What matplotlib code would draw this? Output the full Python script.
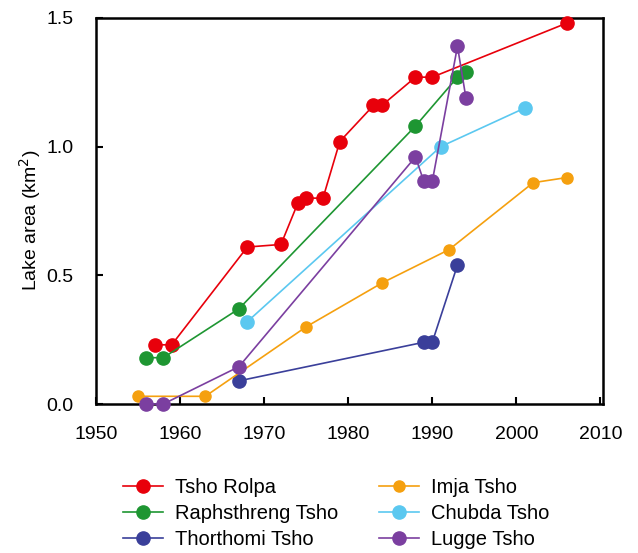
import matplotlib.pyplot as plt

plt.rcParams['font.family'] = ['Liberation Sans', 'DejaVu Sans']

# Lake areas (km2) by survey year
rolpa_years = [1957, 1959, 1968, 1972, 1974, 1975, 1977, 1979, 1983, 1984, 1988, 1990, 2006]
rolpa_area = [0.23, 0.23, 0.61, 0.62, 0.78, 0.80, 0.80, 1.02, 1.16, 1.16, 1.27, 1.27, 1.48]

raph_years = [1956, 1958, 1967, 1988, 1993, 1994]
raph_area = [0.18, 0.18, 0.37, 1.08, 1.27, 1.29]

thor_years = [1967, 1989, 1990, 1993]
thor_area = [0.09, 0.24, 0.24, 0.54]

imja_years = [1955, 1963, 1975, 1984, 1992, 2002, 2006]
imja_area = [0.03, 0.03, 0.30, 0.47, 0.60, 0.86, 0.88]

chubda_years = [1968, 1991, 2001]
chubda_area = [0.32, 1.00, 1.15]

lugge_years = [1956, 1958, 1967, 1988, 1989, 1990, 1993, 1994]
lugge_area = [0.0, 0.0, 0.145, 0.96, 0.865, 0.865, 1.39, 1.19]

series = [
    ("Tsho Rolpa", rolpa_years, rolpa_area, "#e8000b", 9.5),
    ("Raphsthreng Tsho", raph_years, raph_area, "#1e9632", 9.5),
    ("Thorthomi Tsho", thor_years, thor_area, "#3a3f9a", 9.5),
    ("Imja Tsho", imja_years, imja_area, "#f5a00f", 8),
    ("Chubda Tsho", chubda_years, chubda_area, "#5bc8f0", 9.5),
    ("Lugge Tsho", lugge_years, lugge_area, "#7b3fa0", 9.5),
]

fig = plt.figure(figsize=(6.38, 5.53), dpi=100)
ax = fig.add_axes([0.1505, 0.2694, 0.7945, 0.6981])

for name, yrs, area, col, ms in series:
    ax.plot(yrs, area, "-o", color=col, lw=1.2, ms=ms, mec=col, label=name,
            clip_on=False, zorder=3)

ax.set_xlim(1950, 2010.3)
ax.set_ylim(0, 1.5)
ax.set_xticks(range(1950, 2011, 10))
ax.set_yticks([0.0, 0.5, 1.0, 1.5])
ax.set_yticklabels(["0.0", "0.5", "1.0", "1.5"])
ax.tick_params(direction="in", length=5, width=1.5, labelsize=14, pad=16)
ax.tick_params(axis="x", pad=16)
for s in ax.spines.values():
    s.set_linewidth(1.8)
ax.set_ylabel("Lake area (km$^2$)", fontsize=14)
ax.yaxis.set_label_coords(-0.105, 0.477)

# legend in two columns under the plot, column-wise order
fig.legend(loc="center left", bbox_to_anchor=(0.193, 0.0714), ncol=2, frameon=False,
           fontsize=14.5, handlelength=2.0, handletextpad=0.6, columnspacing=2.0,
           labelspacing=0.33, borderaxespad=0, borderpad=0)

fig.savefig("out.png", dpi=100)
